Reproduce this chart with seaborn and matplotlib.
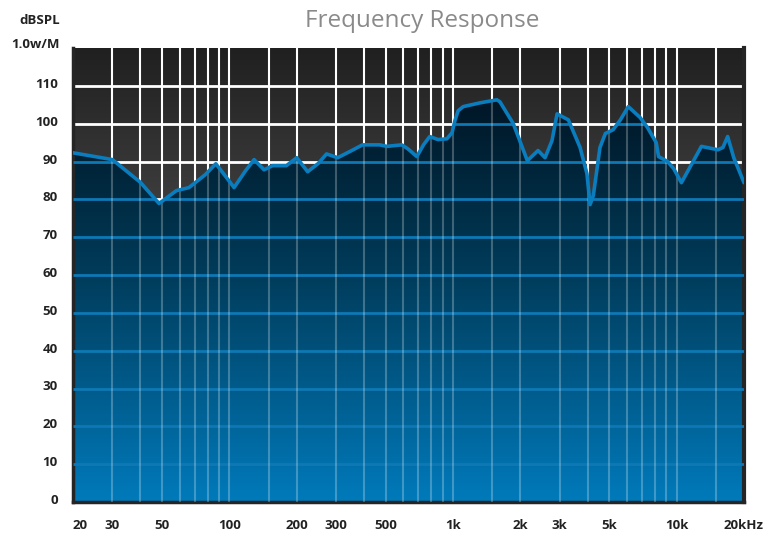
import matplotlib
matplotlib.use("Agg")
import matplotlib.pyplot as plt
import matplotlib.transforms as mtransforms
from matplotlib.colors import LinearSegmentedColormap
from matplotlib.patches import PathPatch
from matplotlib.path import Path
import numpy as np
import pandas as pd
import seaborn as sns

# frequency response
freq = [20, 30, 40, 48.5, 58, 66, 78, 87, 95, 105, 118, 129, 143, 156, 180, 200,
        224, 250, 272, 305, 350, 394, 470, 506, 590, 627, 689, 740, 787, 857, 939,
        990, 1020, 1054, 1110, 1320, 1570, 1620, 1860, 2150, 2400, 2580, 2770, 2920,
        3280, 3700, 3970, 4100, 4240, 4540, 4800, 5200, 5600, 6080, 6870, 7400,
        8100, 8300, 9100, 9700, 10500, 12100, 12900, 15300, 16100, 16900, 18000,
        20000]
spl = [92.3, 90.5, 84.5, 78.9, 82.3, 83.1, 86.5, 89.4, 86.5, 83.1, 87.5, 90.5,
       87.8, 88.9, 88.9, 91.0, 87.3, 89.5, 92.0, 91.0, 92.8, 94.4, 94.4, 94.0,
       94.4, 93.4, 91.3, 94.5, 96.6, 95.8, 96.0, 97.6, 100.8, 103.4, 104.5, 105.5,
       106.3, 105.8, 100.0, 90.2, 92.9, 91.0, 95.5, 102.6, 101.0, 93.7, 86.8, 78.6,
       81.0, 93.7, 97.4, 98.4, 101.0, 104.5, 101.6, 99.0, 95.0, 91.3, 90.0, 88.1,
       84.4, 91.0, 94.0, 93.1, 93.7, 96.6, 91.0, 84.4]

y_ticks = list(range(0, 120, 10))
x_ticks = [20, 30, 50, 100, 200, 300, 500, 1000, 2000, 3000, 5000, 10000, 20000]
x_labels = ["20", "30", "50", "100", "200", "300", "500", "1k", "2k", "3k", "5k",
            "10k", "20kHz"]
grid_freqs = [30, 40, 50, 60, 70, 80, 90, 100, 150, 200, 300, 400, 500, 600, 700,
              800, 900, 1000, 1500, 2000, 3000, 4000, 5000, 6000, 7000, 8000,
              9000, 10000, 15000]

df = pd.DataFrame({"freq": freq, "spl": spl})

sns.set_theme(style="white")
plt.rcParams["font.family"] = ["Open Sans", "DejaVu Sans"]

fig = plt.figure(figsize=(7.83, 5.33), dpi=100)
ax = fig.add_axes([73 / 783, 31 / 533, 671 / 783, 454 / 533])
ax.set_xscale("log")
ax.set_xlim(20, 20000)
ax.set_ylim(0, 120)

# dark grey background gradient
grey = LinearSegmentedColormap.from_list(
    "grey", [(0, "#5a5a5a"), (0.6, "#424242"), (1, "#202020")])
grad = np.linspace(0, 1, 256).reshape(-1, 1)
ax.imshow(grad, cmap=grey, aspect="auto", extent=[0, 1, 0, 1],
          transform=ax.transAxes, origin="lower", zorder=0)

# white grid above the curve
ax.hlines(y_ticks[1:], 20, 20000, colors="white", linewidth=2, zorder=1)
ax.vlines(grid_freqs, 0, 120, colors="white", linewidth=1.5, zorder=1)

# area under the curve, as a clip path
verts = [(freq[0], 0)] + list(zip(freq, spl)) + [(freq[-1], 0), (freq[0], 0)]
codes = [Path.MOVETO] + [Path.LINETO] * (len(verts) - 2) + [Path.CLOSEPOLY]
area = PathPatch(Path(verts, codes), transform=ax.transData,
                 facecolor="none", edgecolor="none")
ax.add_patch(area)

blue = LinearSegmentedColormap.from_list(
    "blue", [(0, "#007abb"), (0.5, "#003c5b"), (0.67, "#002b42"),
             (0.86, "#01192a"), (1, "#00101b")])
img = ax.imshow(grad, cmap=blue, aspect="auto", extent=[0, 1, 0, 1],
                transform=ax.transAxes, origin="lower", zorder=2)
img.set_clip_path(area)

hl = ax.hlines(y_ticks[1:], 20, 20000, colors="#0e78b4", linewidth=2, zorder=3)
hl.set_clip_path(area)
vl = ax.vlines(grid_freqs, 0, 120, colors="white", linewidth=1.5, alpha=0.25,
               zorder=3)
vl.set_clip_path(area)

sns.lineplot(data=df, x="freq", y="spl", ax=ax, color="#0a7dbf", linewidth=2.6,
             zorder=4, sort=False)

ax.set_xlabel("")
ax.set_ylabel("")
ax.set_xticks(x_ticks)
ax.set_xticklabels(x_labels)
ax.minorticks_off()
ax.set_yticks(y_ticks)
ax.tick_params(axis="both", length=0, labelsize=9.5, labelcolor="#222222")
ax.tick_params(axis="x", pad=12)
ax.tick_params(axis="y", pad=11)
for lab in ax.get_xticklabels() + ax.get_yticklabels():
    lab.set_fontweight("bold")
ax.get_xticklabels()[0].set_horizontalalignment("left")
offset = mtransforms.ScaledTranslation(0, 3 / 100, fig.dpi_scale_trans)
for lab in ax.get_yticklabels():
    lab.set_transform(lab.get_transform() + offset)

for side in ["left", "bottom"]:
    ax.spines[side].set_color("#252525")
    ax.spines[side].set_linewidth(2.5)
ax.spines["right"].set_color("#252525")
ax.spines["right"].set_linewidth(3)
ax.spines["top"].set_visible(False)
ax.grid(False)

fig.text(422 / 783, 1 - 21 / 533, "Frequency Response", ha="center",
         va="center", fontsize=17.5, color="#8a8a8a")
fig.text(60 / 783, 1 - 21 / 533, "dBSPL", ha="right", va="center",
         fontsize=9.5, fontweight="bold", color="#222222")
fig.text(60 / 783, 1 - 44 / 533, "1.0w/M", ha="right", va="center",
         fontsize=9.5, fontweight="bold", color="#222222")

fig.savefig("out.png", dpi=100, facecolor="white")
